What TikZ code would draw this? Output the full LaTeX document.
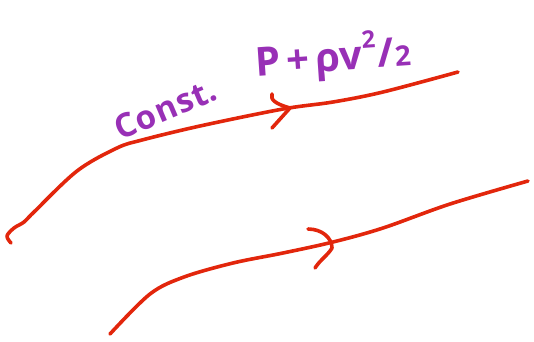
\documentclass[tikz,border=0pt]{standalone}
\usepackage{fontspec}
\setmainfont{Open Sans}
\definecolor{streamred}{RGB}{226,38,12}
\definecolor{labelpurple}{RGB}{152,48,182}
\begin{document}
\begin{tikzpicture}[x=1pt,y=-1pt,
  stream/.style={draw=streamred,line width=3.6pt,line cap=round,line join=round},
  label/.style={text=labelpurple,inner sep=0pt,font=\bfseries\fontsize{33}{36}\selectfont}]
\useasboundingbox (0,0) rectangle (534,341);
% upper streamline
\coordinate (u0) at (11,243);
\coordinate (u1) at (458,72);
\draw[stream] plot[smooth,tension=0.55] coordinates {(u0) (7,236) (14,228) (24,222) (34,212) (77,171) (117,148) (142,140) (200,126) (283,109) (333,102) (383,92) (u1)};
\coordinate (ua) at (290,108);
\draw[stream] (272,94) .. controls (270,100) and (276,104) .. (ua) -- (272,128);
% lower streamline
\coordinate (l0) at (110,334);
\coordinate (l1) at (528,181);
\draw[stream] plot[smooth,tension=0.55] coordinates {(l0) (150,294) (184,277) (233,263) (283,253) (333,242) (383,228) (450,204) (l1)};
\coordinate (la) at (332,248);
\draw[stream] (308,229) .. controls (322,229) and (332,238) .. (la) .. controls (328,255) and (320,260) .. (315,268);
% labels
\node[label,rotate=23] (const) at (165,109) {C\kern1pt o\kern1pt n\kern1pt s\kern1pt t.};
\node[label,rotate=4,font=\bfseries\fontsize{40}{44}\selectfont] (bern) at (333,57) {P\kern6pt +\kern6pt ρv\raisebox{0.5em}{\fontsize{24}{26}\selectfont 2}\kern1pt/\kern1pt\fontsize{28}{30}\selectfont 2};
\end{tikzpicture}
\end{document}
